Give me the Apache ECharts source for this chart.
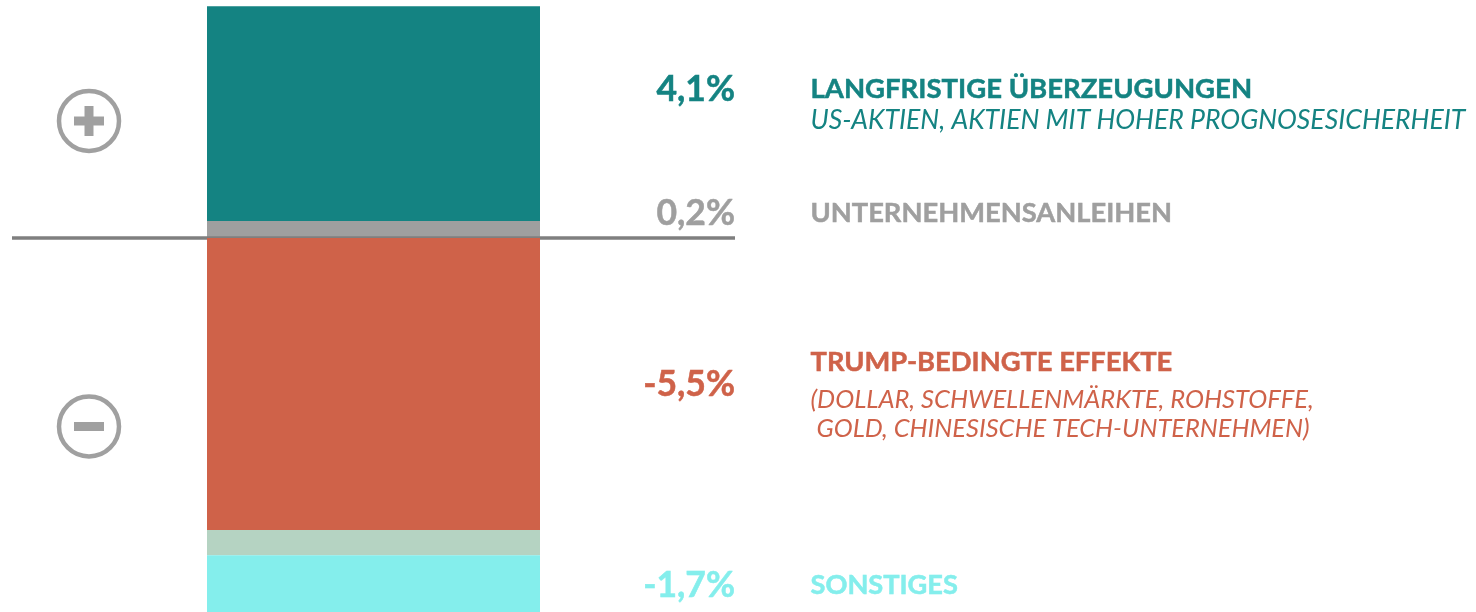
<!DOCTYPE html>
<html><head><meta charset="utf-8">
<style>html,body{margin:0;padding:0;background:#fff}#c{width:1476px;height:612px}</style>
<script src="https://cdn.jsdelivr.net/npm/echarts@6/dist/echarts.min.js"></script>
</head><body><div id="c"></div>
<script>
const categories = ['Beitrag'];
const corporateBonds = [0.32];
const convictions = [4.03];
const trumpEffects = [-5.48];
const otherUpper = [-0.47];
const otherLower = [-1.07];
const valueLabels = ['4,1%', '0,2%', '-5,5%', '-1,7%'];
const colors = {teal:'#148382', gray:'#9f9f9f', red:'#cf6249', pale:'#b5d3c2', cyan:'#84eeec', axis:'#7f7f7f', icon:'#a0a0a0'};
const FONT = 'Lato';
function txt(x,y,s,color,size,opt){
  const italic=opt&&opt.w==='italic';
  return {type:'text',x:x,y:y,z:10,style:{text:s,fill:color,stroke:italic?null:color,lineWidth:italic?0:0.5,font:(italic?'italic':'bold')+' '+size+'px '+FONT,textAlign:opt&&opt.a||'left',textVerticalAlign:'middle'}};
}
function icon(cx,cy,plus){
  const els=[{type:'circle',shape:{cx:cx,cy:cy,r:30},style:{fill:'none',stroke:colors.icon,lineWidth:4.5}},
    {type:'rect',shape:{x:cx-15,y:cy-4.5,width:30,height:9},style:{fill:colors.icon}}];
  if(plus)els.push({type:'rect',shape:{x:cx-4.5,y:cy-15,width:9,height:30},style:{fill:colors.icon}});
  return els;
}
const bar=(name,data,color,z)=>({name,type:'bar',stack:'total',data,barWidth:333,itemStyle:{color},silent:true,z});
const chart=echarts.init(document.getElementById('c'),null,{renderer:'canvas'});
chart.setOption({
  animation:false,
  grid:{left:12,width:723,top:0,height:612},
  xAxis:{type:'category',data:categories,axisTick:{show:false},axisLabel:{show:false},
    axisLine:{show:true,onZero:true,lineStyle:{color:colors.axis,width:3.5,cap:'butt'}},z:2},
  yAxis:{type:'value',min:-7.017,max:4.465,show:false,splitLine:{show:false}},
  series:[
    bar('Unternehmensanleihen',corporateBonds,colors.gray,1),
    bar('Langfristige Überzeugungen',convictions,colors.teal,1),
    bar('Trump-bedingte Effekte',trumpEffects,colors.red,3),
    bar('Sonstiges (oben)',otherUpper,colors.pale,3),
    bar('Sonstiges',otherLower,colors.cyan,3)
  ],
  graphic:[
    ...icon(89,121,true),...icon(89,426.5,false),
    txt(735,90,valueLabels[0],colors.teal,35.5,{a:'right'}),
    txt(735,214,valueLabels[1],colors.gray,35.5,{a:'right'}),
    txt(735,385,valueLabels[2],colors.red,35.5,{a:'right'}),
    txt(735,586,valueLabels[3],colors.cyan,35.5,{a:'right'}),
    txt(810.5,89,'LANGFRISTIGE ÜBERZEUGUNGEN',colors.teal,27.5),
    txt(810.5,120,'US-AKTIEN, AKTIEN MIT HOHER PROGNOSESICHERHEIT',colors.teal,26.6,{w:'italic'}),
    txt(810.5,213,'UNTERNEHMENSANLEIHEN',colors.gray,27.3),
    txt(810.5,362,'TRUMP-BEDINGTE EFFEKTE',colors.red,27.3),
    txt(810.5,400,'(DOLLAR, SCHWELLENMÄRKTE, ROHSTOFFE,',colors.red,25.5,{w:'italic'}),
    txt(816.5,429,'GOLD, CHINESISCHE TECH-UNTERNEHMEN)',colors.red,25.4,{w:'italic'}),
    txt(810.5,585,'SONSTIGES',colors.cyan,27.2)
  ]
});
</script></body></html>
